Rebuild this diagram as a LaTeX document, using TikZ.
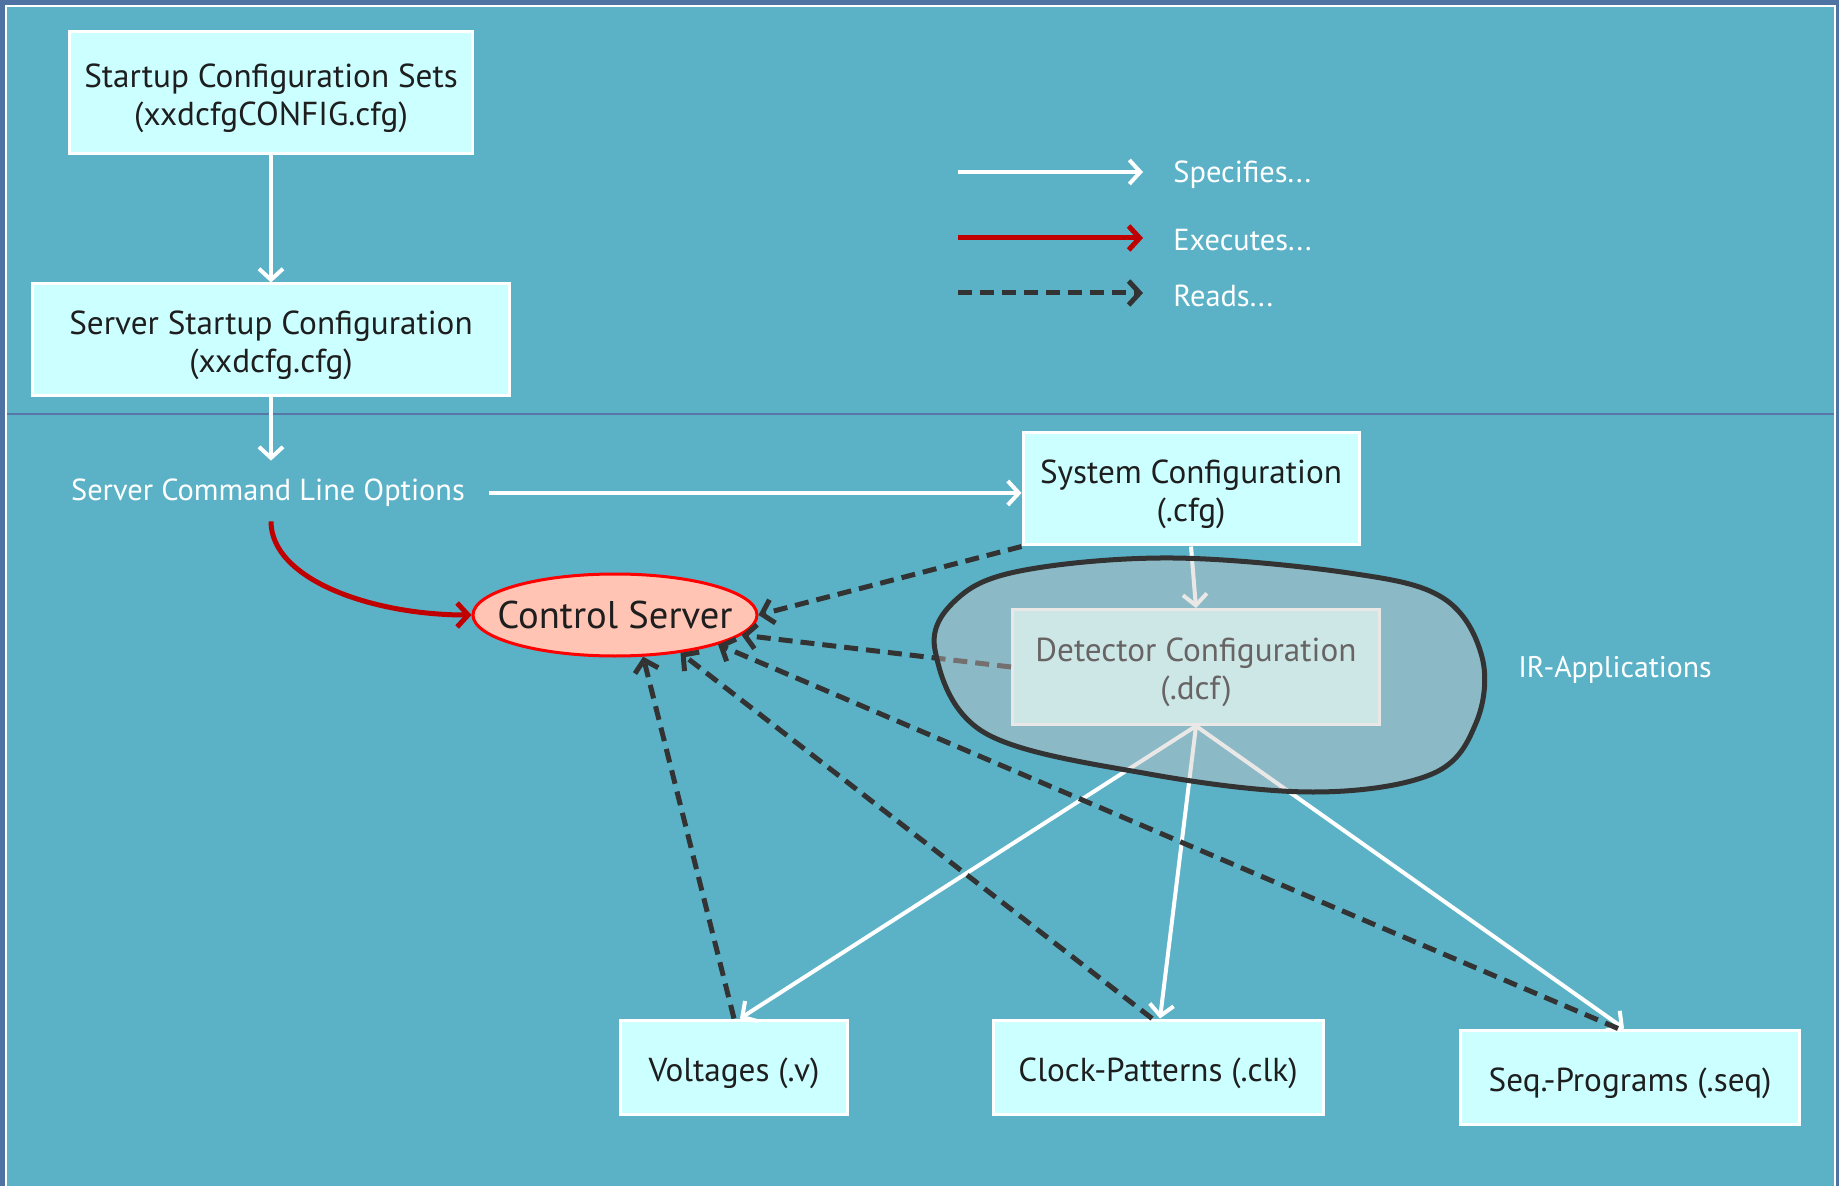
\documentclass[tikz,border=0pt]{standalone}
\usepackage{fontspec}
\setmainfont{PT Sans}
\usetikzlibrary{arrows.meta,shapes.geometric,calc}

\definecolor{bgteal}{HTML}{5BB2C7}
\definecolor{framebl}{HTML}{4E72A2}
\definecolor{sepline}{HTML}{5877A8}
\definecolor{boxcyan}{HTML}{CCFFFF}
\definecolor{boxtext}{HTML}{1E1E1E}
\definecolor{execred}{HTML}{C00000}
\definecolor{readgray}{HTML}{333333}
\definecolor{csfill}{HTML}{FFC4B3}
\definecolor{csline}{HTML}{FF0000}
\definecolor{blobtint}{HTML}{CFC6C6}

% two centred lines, set a little low in their box
\newcommand\twolines[2]{\begin{tabular}{@{}c@{}}\rule{0pt}{19pt}#1\\#2\end{tabular}}

\tikzset{
  box/.style={draw=white, line width=1.5pt, fill=boxcyan, text=boxtext,
    inner sep=0pt, font=\fontsize{16.6}{18.75}\selectfont},
  onebox/.style={box, execute at begin node={\rule{0pt}{18.5pt}}},
  lbl/.style={text=white, font=\fontsize{15.2}{18}\selectfont, inner sep=0pt},
  specifies/.style={draw=white, line width=2pt,
    -{Straight Barb[length=5.5pt,width=12pt,line width=2pt]}},
  executes/.style={draw=execred, line width=2.5pt,
    -{Straight Barb[length=5.5pt,width=12pt,line width=2.5pt]}},
  reads/.style={draw=readgray, line width=2.5pt, dash pattern=on 7pt off 4pt,
    -{Straight Barb[length=5.5pt,width=12pt,line width=2.5pt]}},
}

\begin{document}
\begin{tikzpicture}[x=0.5pt,y=-0.5pt]
\useasboundingbox (0,0) rectangle (1839,1186);

% slide frame and background
\fill[framebl] (0,0) rectangle (1839,1186);
\fill[white] (5,5) rectangle (1836,1186);
\fill[bgteal] (7,7) rectangle (1834,1186);
\draw[sepline, line width=1pt] (7,414) -- (1834,414);

% configuration files
\node[box, minimum width=201.5pt, minimum height=61pt] (sets) at (271,93)
  {\twolines{Startup Configuration Sets}{(xxdcfgCONFIG.cfg)}};
\node[box, minimum width=238.5pt, minimum height=56pt] (srv) at (271,340)
  {\twolines{Server Startup Configuration}{(xxdcfg.cfg)}};
\node[lbl, inner xsep=12pt, minimum height=30pt] (opts) at (268,493)
  {Server Command Line Options};
\node[box, minimum width=168pt, minimum height=56pt] (sys) at (1191,489)
  {\twolines{System Configuration}{(.cfg)}};
\node[box, minimum width=183.5pt, minimum height=57.5pt] (det) at (1196,667)
  {\twolines{Detector Configuration}{(.dcf)}};
\node[onebox, minimum width=113.5pt, minimum height=47pt] (volt) at (734,1067)
  {Voltages (.v)};
\node[onebox, minimum width=165pt, minimum height=47pt] (clk) at (1158,1067)
  {Clock-Patterns (.clk)};
\node[onebox, minimum width=169.5pt, minimum height=47pt] (seq) at (1630,1077)
  {Seq.-Programs (.seq)};

\node[ellipse, draw=csline, line width=1.5pt, fill=csfill, text=boxtext,
  minimum width=142pt, minimum height=41pt, inner sep=0pt,
  font=\fontsize{19.3}{22}\selectfont] (cs) at (615,615)
  {\makebox[0pt]{Control Server}};

% specifies
\draw[specifies] (sets.south) -- (srv.north);
\draw[specifies] (srv.south) -- ([yshift=1pt]opts.north -| srv.south);
\draw[specifies] (opts.east) -- (sys.west |- opts.east);
\draw[specifies] (sys.south) -- (det.north);
\draw[specifies] (det.south) -- ([xshift=3pt]volt.north);
\draw[specifies] (det.south) -- ([xshift=1pt]clk.north);
\draw[specifies] (det.south) -- ([xshift=-3pt]seq.north);

% executes
\draw[executes] ([xshift=1.5pt,yshift=1pt]opts.south) .. controls +(0,58) and +(-100,0) .. (cs.west);

% reads
\draw[reads] (sys.south west) -- (cs.east);
\draw[reads] (det.west) -- (cs.-9);
\draw[reads] ([xshift=-6pt]seq.north) -- (cs.-16);
\draw[reads] ([xshift=-3pt]clk.north) -- (cs.-30);
\draw[reads] (volt.north) -- (cs.-56);

% IR-Applications outline
\draw[draw=readgray, line width=2.5pt, fill=blobtint, fill opacity=0.42]
  plot[smooth cycle, tension=0.6] coordinates {
    (935,650) (958,598) (1025,570) (1173,558) (1349,573) (1443,598)
    (1482,657) (1476,723) (1432,774) (1313,792) (1149,774) (985,733)};
\node[lbl, font=\fontsize{14.9}{18}\selectfont] (ir) at (1615,670) {IR-Applications};

% legend
\coordinate (lsa) at (958,172);
\coordinate (lsb) at (1143,172);
\coordinate (lea) at (958,238);
\coordinate (leb) at (1143,238);
\coordinate (lra) at (958,293);
\coordinate (lrb) at (1143,293);
\draw[specifies] (lsa) -- (lsb);
\draw[executes] (lea) -- (leb);
\draw[reads] (lra) -- (lrb);
\node[lbl, anchor=west] (lst) at (1173,175) {Specifies...};
\node[lbl, anchor=west] (let) at (1173,240) {Executes...};
\node[lbl, anchor=west] (lrt) at (1173,296) {Reads...};
\end{tikzpicture}
\end{document}
